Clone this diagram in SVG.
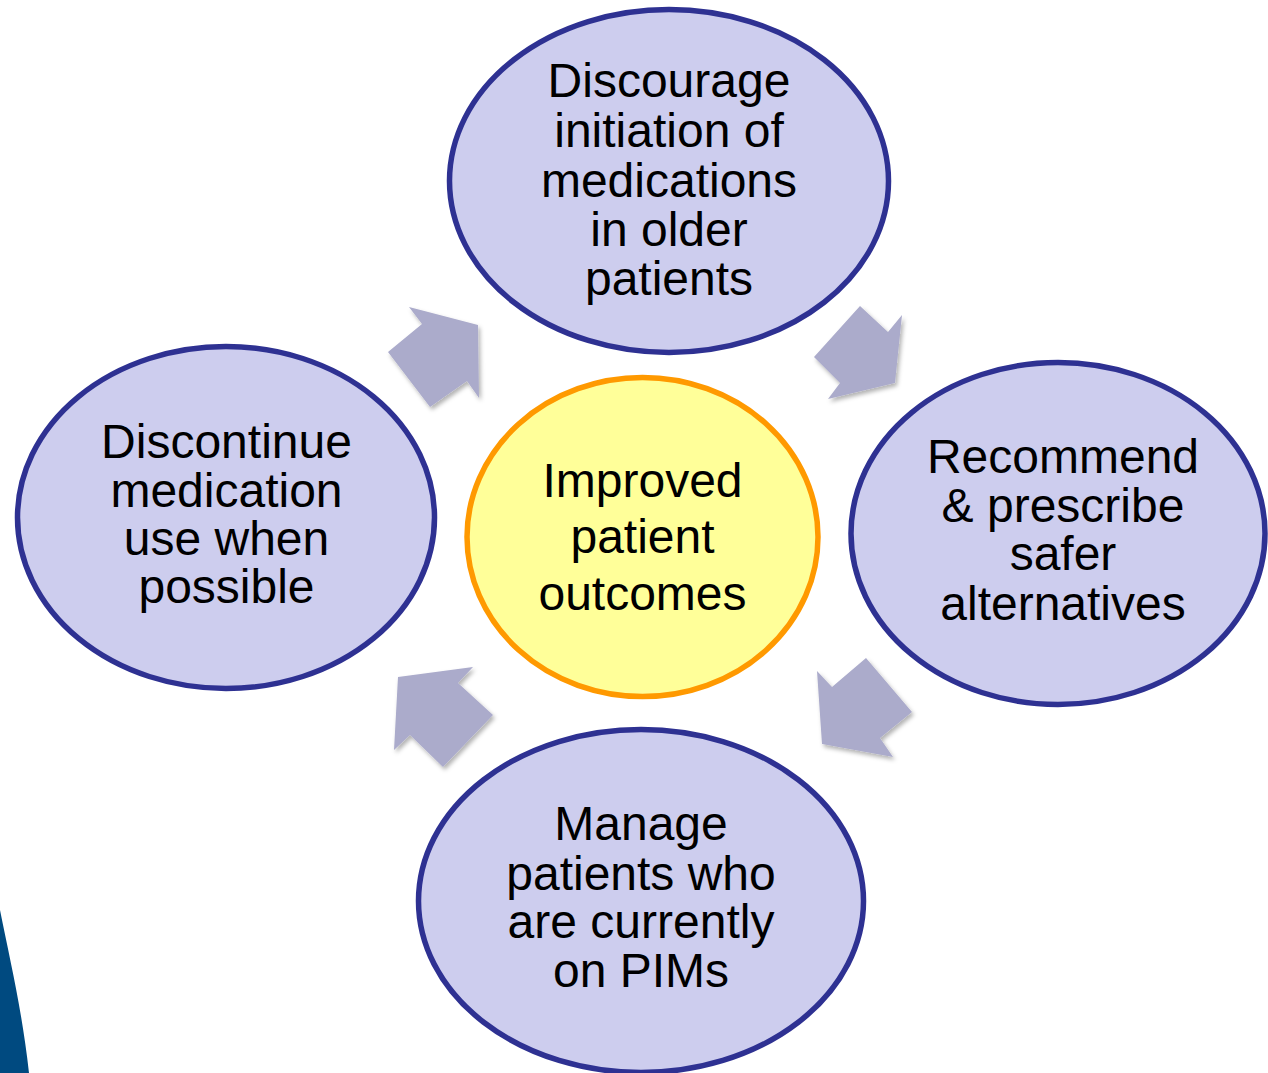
<svg xmlns="http://www.w3.org/2000/svg" width="1268" height="1073" viewBox="0 0 1268 1073">
  <defs>
    <filter id="shadow" x="-20%" y="-20%" width="150%" height="150%">
      <feDropShadow dx="2" dy="3" stdDeviation="2" flood-color="#000000" flood-opacity="0.3"/>
    </filter>
  </defs>
  <style>
    .step { fill: #CDCDEE; stroke: #2E3192; stroke-width: 5.5; }
    .hub { fill: #FFFF99; stroke: #FF9900; stroke-width: 5.5; }
    .label { font-family: "Liberation Sans", Arial, sans-serif; font-size: 48px; fill: #000000; text-anchor: middle; }
    .arrow { fill: #ABABCB; filter: url(#shadow); }
  </style>

  <rect width="1268" height="1073" fill="#FFFFFF"/>

  <!-- slide background accent in the lower-left corner -->
  <path d="M0,910 C10,960 22,1010 29,1073 L0,1073 Z" fill="#004A80"/>

  <!-- cycle arrows between the steps -->
  <g id="connectors">
    <polygon class="arrow" points="409,307 478,325 479,398 467,381 430,407 388,352 422,324"/>
    <polygon class="arrow" points="860,306 888,332 902,315 895,383 828,399 840,383 814,357"/>
    <polygon class="arrow" points="817,671 832,687 866,658 912,712 880,738 893,757 822,744"/>
    <polygon class="arrow" points="473,667 458,683 493,715 443,767 410,735 394,750 398,677"/>
  </g>

  <g id="node-discourage">
    <ellipse class="step" cx="669" cy="181" rx="219.5" ry="171.5"/>
    <text class="label" x="669" y="97">Discourage</text>
    <text class="label" x="669" y="147">initiation of</text>
    <text class="label" x="669" y="197">medications</text>
    <text class="label" x="669" y="246">in older</text>
    <text class="label" x="669" y="295">patients</text>
  </g>

  <g id="node-recommend">
    <ellipse class="step" cx="1058" cy="533.5" rx="207" ry="171"/>
    <text class="label" x="1063" y="473">Recommend</text>
    <text class="label" x="1063" y="522">&amp; prescribe</text>
    <text class="label" x="1063" y="570">safer</text>
    <text class="label" x="1063" y="620">alternatives</text>
  </g>

  <g id="node-manage">
    <ellipse class="step" cx="641" cy="901" rx="222.5" ry="171.5"/>
    <text class="label" x="641" y="840">Manage</text>
    <text class="label" x="641" y="890">patients who</text>
    <text class="label" x="641" y="938">are currently</text>
    <text class="label" x="641" y="987">on PIMs</text>
  </g>

  <g id="node-discontinue">
    <ellipse class="step" cx="226" cy="517.5" rx="208.5" ry="171"/>
    <text class="label" x="226.5" y="458">Discontinue</text>
    <text class="label" x="226.5" y="507">medication</text>
    <text class="label" x="226.5" y="555">use when</text>
    <text class="label" x="226.5" y="603">possible</text>
  </g>

  <g id="node-outcomes">
    <ellipse class="hub" cx="642.5" cy="537" rx="175.5" ry="159.5"/>
    <text class="label" x="642.5" y="497">Improved</text>
    <text class="label" x="642.5" y="553">patient</text>
    <text class="label" x="642.5" y="610">outcomes</text>
  </g>
</svg>
